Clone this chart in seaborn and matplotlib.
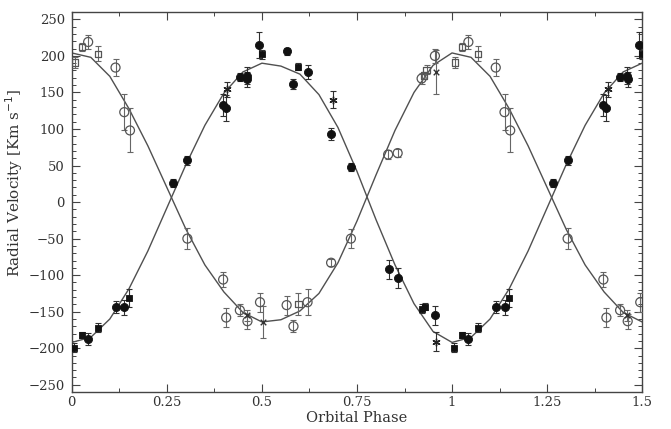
import matplotlib
matplotlib.use("Agg")
import matplotlib.pyplot as plt
from matplotlib.ticker import MultipleLocator, FixedLocator
from matplotlib.markers import MarkerStyle
import pandas as pd
import seaborn as sns

# model curves, one orbital period (phase 0..1)
curve_phase = [0.00, 0.05, 0.10, 0.15, 0.20, 0.25, 0.30, 0.35, 0.40, 0.45, 0.50,
               0.55, 0.60, 0.65, 0.70, 0.75, 0.80, 0.85, 0.90, 0.95, 1.00]
curve_primary = [-192, -185, -160, -119, -67, -8, 51, 105, 149, 178, 190,
                 186, 175, 147, 102, 42, -24, -86, -139, -177, -192]
curve_secondary = [204, 198, 172, 128, 77, 20, -37, -86, -123, -151, -164,
                   -161, -149, -125, -83, -26, 37, 98, 150, 187, 204]

# primary star (filled symbols)
pri_phase = [0.006, 0.026, 0.043, 0.068, 0.115, 0.138, 0.150, 0.265, 0.304, 0.398,
             0.406, 0.409, 0.442, 0.460, 0.462, 0.493, 0.499, 0.565, 0.583, 0.596,
             0.620, 0.682, 0.686, 0.734, 0.834, 0.857, 0.920, 0.929, 0.955, 0.957]
pri_vel = [-199, -182, -187, -172, -144, -144, -131, 26, 57, 133,
           129, 154, 171, 173, 168, 215, 202, 206, 162, 185,
           178, 93, 140, 48, -92, -104, -146, -143, -155, -191]
pri_err = [6, 4, 8, 6, 8, 10, 12, 6, 6, 15,
           18, 10, 6, 12, 10, 18, 6, 5, 7, 5,
           10, 8, 12, 5, 13, 14, 6, 5, 13, 13]
pri_kind = ["sq", "sq", "ci", "sq", "ci", "ci", "sq", "ci", "ci", "ci",
            "ci", "x", "ci", "ci", "ci", "ci", "sq", "ci", "ci", "sq",
            "ci", "ci", "x", "ci", "ci", "ci", "sq", "sq", "ci", "x"]

# secondary star (open symbols)
sec_phase = [0.008, 0.026, 0.043, 0.069, 0.115, 0.138, 0.153, 0.304, 0.398, 0.406,
             0.442, 0.460, 0.462, 0.495, 0.503, 0.565, 0.583, 0.596, 0.620, 0.682,
             0.734, 0.832, 0.857, 0.920, 0.927, 0.933, 0.955, 0.958]
sec_vel = [191, 212, 219, 203, 184, 123, 98, -50, -106, -158,
           -148, -155, -163, -137, -164, -141, -170, -139, -137, -83,
           -50, 65, 67, 169, 173, 181, 200, 178]
sec_err = [8, 5, 10, 10, 12, 25, 30, 14, 10, 13,
           8, 8, 10, 13, 22, 13, 8, 15, 18, 5,
           13, 6, 5, 8, 5, 6, 10, 30]
sec_kind = ["sq", "sq", "ci", "sq", "ci", "ci", "ci", "ci", "ci", "ci",
            "ci", "x", "ci", "ci", "x", "ci", "ci", "sq", "ci", "ci",
            "ci", "ci", "ci", "ci", "sq", "sq", "ci", "x"]

xticks = [0, 0.25, 0.5, 0.75, 1, 1.25, 1.5]
xticklabels = ["0", "0.25", "0.5", "0.75", "1", "1.25", "1.5"]


def one_and_half(phase, *cols):
    # phases 0..1 plus the repeat of 0..0.5 shown at 1..1.5
    df = pd.DataFrame({"phase": phase, **{f"c{i}": c for i, c in enumerate(cols)}})
    rep = df[df["phase"] <= 0.5].copy()
    rep["phase"] = rep["phase"] + 1
    return pd.concat([df, rep], ignore_index=True)


curves = one_and_half(curve_phase, curve_primary, curve_secondary)
curves = curves.drop_duplicates("phase").sort_values("phase")
pri = one_and_half(pri_phase, pri_vel, pri_err, pri_kind)
sec = one_and_half(sec_phase, sec_vel, sec_err, sec_kind)
pri.columns = sec.columns = ["phase", "vel", "err", "kind"]

sns.set_style("ticks")
plt.rcParams["font.family"] = ["DejaVu Serif"]
plt.rcParams["axes.unicode_minus"] = True

fig, ax = plt.subplots(figsize=(6.71, 4.29), dpi=100)
fig.subplots_adjust(left=0.107, right=0.957, top=0.972, bottom=0.086)

line_col = "#505050"
sns.lineplot(data=curves, x="phase", y="c0", color=line_col, lw=1.0, ax=ax, sort=False)
sns.lineplot(data=curves, x="phase", y="c1", color=line_col, lw=1.0, ax=ax, sort=False)

for df, ecol in [(pri, "#303030"), (sec, "#666666")]:
    ax.errorbar(df["phase"], df["vel"], yerr=df["err"], fmt="none", ecolor=ecol,
                elinewidth=0.8, capsize=2.5, capthick=0.8, zorder=3)

# filled symbols: primary
for kind, mk, size in [("ci", "o", 34), ("sq", "s", 18)]:
    sub = pri[pri["kind"] == kind]
    sns.scatterplot(data=sub, x="phase", y="vel", marker=mk, s=size, color="#111111",
                    edgecolor="#111111", linewidth=0.6, ax=ax, zorder=4)
sub = pri[pri["kind"] == "x"]
sns.scatterplot(data=sub, x="phase", y="vel", marker=(6, 2, 0), s=26, color="#222222",
                linewidth=1.0, ax=ax, zorder=4)

# open symbols: secondary
for kind, mk, size in [("ci", "o", 42), ("sq", "s", 20)]:
    sub = sec[sec["kind"] == kind]
    sns.scatterplot(data=sub, x="phase", y="vel", marker=MarkerStyle(mk, fillstyle="none"),
                    s=size, color="#555555", linewidth=0.9, ax=ax, zorder=4)
sub = sec[sec["kind"] == "x"]
sns.scatterplot(data=sub, x="phase", y="vel", marker="x", s=16, color="#333333",
                linewidth=1.0, ax=ax, zorder=4)

ax.set_xlim(0, 1.5)
ax.set_ylim(-260, 260)
ax.xaxis.set_major_locator(FixedLocator(xticks))
ax.set_xticklabels(xticklabels)
ax.xaxis.set_minor_locator(MultipleLocator(0.125))
ax.yaxis.set_major_locator(MultipleLocator(50))
ax.yaxis.set_minor_locator(MultipleLocator(10))
ax.tick_params(which="both", direction="in", top=True, right=True, color="#444444",
               labelcolor="#333333", labelsize=9.5)
ax.tick_params(which="major", length=6, width=0.8)
ax.tick_params(which="minor", length=3, width=0.7)
ax.tick_params(axis="x", pad=3)
ax.tick_params(axis="y", pad=5)
for sp in ax.spines.values():
    sp.set_color("#444444")
    sp.set_linewidth(1.0)

ax.set_xlabel("Orbital Phase", fontsize=10.5, color="#333333", labelpad=1)
ax.set_ylabel("Radial Velocity [Km s$^{-1}$]", fontsize=11, color="#333333")
ax.yaxis.set_label_coords(-0.082, 0.55)

fig.savefig("out.png", dpi=100, facecolor="white")
